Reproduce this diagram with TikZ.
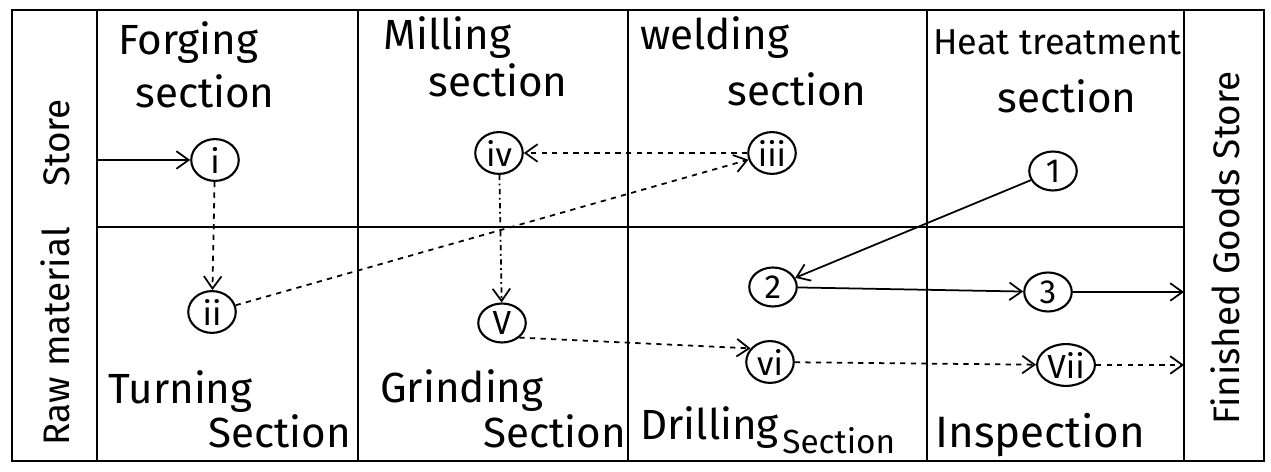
\documentclass[tikz,border=0pt]{standalone}
\usepackage{fontspec}
\setmainfont{Fira Sans}
\usetikzlibrary{arrows.meta,shapes.geometric}
\begin{document}
\begin{tikzpicture}[x=0.02cm,y=-0.02cm,
  frame/.style={line width=1.3pt},
  op/.style={draw,ellipse,line width=1.2pt,inner sep=1pt,minimum width=0.95cm,minimum height=0.78cm,font=\fontsize{19}{19}\selectfont},
  flow/.style={line width=1pt,-{Straight Barb[length=7pt,width=10pt]}},
  lbl/.style={font=\fontsize{24}{26}\selectfont,anchor=base west,inner sep=0pt},
  small/.style={font=\fontsize{19}{20}\selectfont,anchor=base west,inner sep=0pt},
  side/.style={font=\fontsize{21}{24}\selectfont,rotate=90,inner sep=0pt}]
\useasboundingbox (0,0) rectangle (1271,472);
% frame
\draw[frame] (12,10) rectangle (1264,461);
\foreach \x in {97,358,628,927,1184} \draw[frame] (\x,10) -- (\x,461);
\draw[frame] (97,227) -- (1184,227);
% side labels
\node[side] (raw) at (55,272) {Raw material\hspace{1.1em}Store};
\node[side] (fin) at (1225,248) {Finished Goods Store};
% section labels
\node[lbl] (forg1) at (118,55) {Forging};
\node[lbl] (forg2) at (135,108) {section};
\node[lbl] (mill1) at (383,50) {Milling};
\node[lbl] (mill2) at (428,97) {section};
\node[lbl] (weld1) at (640,50) {welding};
\node[lbl] (weld2) at (727,106) {section};
\node[lbl,font=\fontsize{20.5}{22}\selectfont] (heat1) at (933,55) {Heat treatment};
\node[lbl] (heat2) at (997,113) {section};
\node[lbl] (turn1) at (108,404) {Turning};
\node[lbl] (turn2) at (208,448) {Section};
\node[lbl] (grin1) at (380,403) {Grinding};
\node[lbl] (grin2) at (483,448) {Section};
\node[lbl] (dril1) at (640,440) {Drilling};
\node[small] (dril2) at (782,454) {Section};
\node[lbl,font=\fontsize{25}{26}\selectfont] (insp) at (935,448) {Inspection};
% operation nodes
\node[op] (n1) at (215,160) {i};
\node[op] (n2) at (212,312) {ii};
\node[op] (n3) at (772,153) {iii};
\node[op] (n4) at (499,153) {iv};
\node[op] (n5) at (502,323) {V};
\node[op] (n6) at (770,362) {vi};
\node[op] (n7) at (1066,365) {Vii};
\node[op] (h1) at (1053,171) {1};
\node[op] (h2) at (773,287) {2};
\node[op] (h3) at (1048,292) {3};
% free ends
\coordinate (rawin) at (97,160);
\coordinate (fg3) at (1184,292);
\coordinate (fg7) at (1184,365);
% flows
\draw[flow] (rawin) -- (n1);
\draw[flow,dashed] (n1) -- (n2);
\draw[flow,dashed] (n2) -- (n3);
\draw[flow,dashed] (n3) -- (n4);
\draw[flow,dash dot] (n4) -- (n5);
\draw[flow,dashed] (n5.-40) -- (n6.145);
\draw[flow,dashed] (n6) -- (n7);
\draw[flow,dashed] (n7) -- (fg7);
\draw[flow] (h1) -- (h2);
\draw[flow] (h2) -- (h3);
\draw[flow] (h3) -- (fg3);
\end{tikzpicture}
\end{document}
